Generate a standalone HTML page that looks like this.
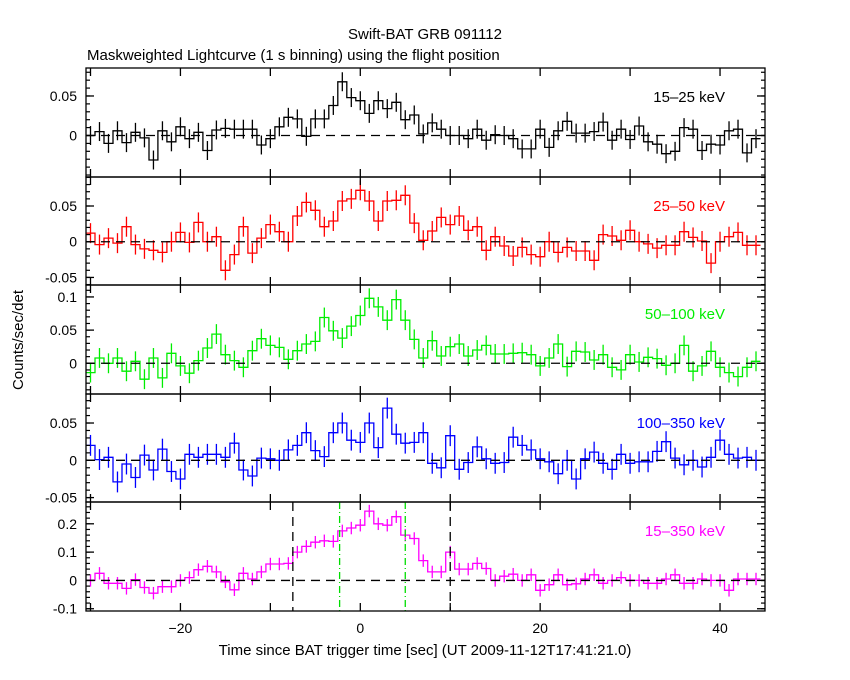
<!DOCTYPE html>
<html><head><meta charset="utf-8"><style>
body{margin:0;background:#fff;}
svg{display:block;font-family:"Liberation Sans",sans-serif;}
</style></head><body>
<svg id="chart" width="850" height="680" viewBox="0 0 850 680" xmlns="http://www.w3.org/2000/svg">
<rect width="850" height="680" fill="#fff"/>
<text x="425" y="39" text-anchor="middle" font-size="15">Swift-BAT GRB 091112</text>
<text x="87" y="60" font-size="15">Maskweighted Lightcurve (1 s binning) using the flight position</text>
<text x="0" y="0" font-size="15" text-anchor="middle" transform="translate(23,340) rotate(-90)">Counts/sec/det</text>
<text x="425" y="655" font-size="15" text-anchor="middle">Time since BAT trigger time [sec] (UT 2009-11-12T17:41:21.0)</text>
<g id="plots"></g>
</svg>
<script>
const times = [];
for (let t = -30; t <= 44; t++) times.push(t);
const band1 = [0.0,0.005,-0.01,0.006,-0.009,0.004,-0.003,-0.031,0.006,-0.008,0.011,-0.004,0.004,-0.019,0.007,0.009,0.008,0.008,0.008,-0.012,-0.004,0.011,0.023,0.021,-0.001,0.021,0.021,0.038,0.068,0.048,0.044,0.028,0.044,0.034,0.042,0.02,0.026,0.002,0.016,0.008,0.0,0.0,-0.004,0.008,-0.006,0.001,0.0,-0.004,-0.017,-0.017,0.008,-0.015,0.006,0.018,0.003,0.003,0.005,0.017,-0.006,0.008,-0.005,0.012,-0.008,-0.011,-0.023,-0.02,0.01,0.008,-0.019,-0.011,-0.012,0.006,0.008,-0.022,-0.004];
const band2 = [0.012,-0.004,0.005,-0.002,0.021,-0.004,-0.01,-0.012,-0.015,0.0,0.013,-0.001,0.027,0.0,0.007,-0.04,-0.018,0.021,-0.016,0.005,0.024,0.014,0.0,0.036,0.055,0.044,0.021,0.029,0.057,0.06,0.072,0.057,0.029,0.057,0.058,0.065,0.026,0.002,0.015,0.034,0.024,0.036,0.016,0.021,-0.012,0.007,-0.006,-0.02,-0.008,-0.018,-0.021,0.0,-0.015,-0.008,-0.013,-0.013,-0.026,0.01,0.008,0.002,0.016,0.0,-0.003,-0.009,-0.005,-0.005,0.014,0.006,0.001,-0.03,0.0,0.007,0.013,-0.005,-0.005];
const band3 = [-0.014,0.008,0.0,0.008,-0.012,0.003,-0.024,0.008,-0.022,0.015,-0.004,-0.015,0.004,0.023,0.044,0.013,0.004,-0.006,0.019,0.037,0.027,0.024,0.006,0.019,0.029,0.033,0.069,0.049,0.038,0.056,0.072,0.098,0.085,0.065,0.096,0.065,0.036,0.008,0.034,0.011,0.025,0.029,0.011,0.02,0.027,0.014,0.014,0.015,0.016,0.013,-0.004,0.008,0.029,-0.005,0.018,0.017,0.005,0.013,-0.006,-0.01,0.013,0.002,0.009,0.007,-0.003,0.0,0.027,-0.012,-0.004,0.018,-0.006,-0.014,-0.02,-0.006,0.003];
const band4 = [0.02,0.001,0.004,-0.029,-0.005,-0.023,0.007,-0.013,0.015,-0.015,-0.025,0.008,0.004,0.008,0.008,0.004,0.023,-0.013,-0.021,0.003,0.002,0.0,0.014,0.02,0.037,0.013,0.005,0.037,0.05,0.027,0.024,0.05,0.017,0.07,0.035,0.023,0.024,0.037,-0.004,-0.01,0.033,-0.012,-0.003,0.018,0.002,-0.004,-0.003,0.031,0.02,0.014,0.002,-0.002,-0.018,0.0,-0.025,0.002,0.011,-0.004,-0.012,0.008,-0.004,-0.002,-0.002,0.012,0.025,0.003,-0.006,0.0,-0.009,0.004,0.027,0.008,0.003,0.004,0.0];
const band5 = [0.0,0.025,-0.01,-0.01,-0.028,0.003,-0.025,-0.045,-0.022,-0.022,0.0,0.01,0.038,0.05,0.03,-0.005,-0.033,0.025,0.005,0.03,0.058,0.058,0.06,0.1,0.12,0.135,0.14,0.138,0.175,0.185,0.195,0.245,0.2,0.195,0.225,0.16,0.148,0.07,0.03,0.03,0.1,0.04,0.04,0.06,0.042,0.0,0.015,0.022,0.0,0.02,-0.035,-0.015,0.02,-0.015,-0.012,0.005,0.02,-0.01,0.0,0.01,0.0,0.0,-0.01,-0.01,0.005,0.02,-0.01,-0.01,0.005,0.0,0.0,-0.035,0.005,0.005,0.005];
const errors = [0.012,0.014,0.015,0.014,0.022];
const bandLabels = ["15\u201325 keV","25\u201350 keV","50\u2013100 keV","100\u2013350 keV","15\u2013350 keV"];
const xTickLabels = [-20,0,20,40];
const yTickLabels = [[0,0.05],[-0.05,0,0.05],[0,0.05,0.1],[-0.05,0,0.05],[-0.1,0,0.1,0.2]];
const vlinesBlack = [-7.5,10.0];
const vlinesGreen = [-2.3,5.0];

const panels = [
 {top:68,bot:177,ymin:-0.0525,ymax:0.0854,color:"#000",minor:0.01,tickFmt:v=>v===0?"0":String(v)},
 {top:177,bot:285,ymin:-0.0606,ymax:0.0906,color:"#ff0000",minor:0.01},
 {top:285,bot:394,ymin:-0.0463,ymax:0.118,color:"#00ee00",minor:0.01},
 {top:394,bot:502,ymin:-0.0559,ymax:0.0889,color:"#0000ff",minor:0.01},
 {top:502,bot:611,ymin:-0.108,ymax:0.277,color:"#ff00ff",minor:0.02}
];
const series=[band1,band2,band3,band4,band5];
const X0=86,X1=765,TMIN=-30.5,TMAX=45;
const xs=t=>X0+(t-TMIN)/(TMAX-TMIN)*(X1-X0);
const NS="http://www.w3.org/2000/svg";
const root=document.getElementById('plots');
function mk(tag,attrs,parent){const e=document.createElementNS(NS,tag);for(const k in attrs)e.setAttribute(k,attrs[k]);(parent||root).appendChild(e);return e;}
function fmt(v){if(v===0)return "0";let s=String(v);return s.replace(/^(-?)0\./,"$10.");}

panels.forEach((p,i)=>{
  const g=mk('g',{});
  
  
  const ys=v=>p.bot-(v-p.ymin)/(p.ymax-p.ymin)*(p.bot-p.top);
  const data=series[i];
  // step line
  let d="";
  data.forEach((v,k)=>{const t=times[k];const y=ys(v);
    d+=(k===0?"M":"L")+xs(t-0.5).toFixed(1)+","+y.toFixed(1)+"L"+xs(t+0.5).toFixed(1)+","+y.toFixed(1);});
  const step=mk('path',{d:d,fill:"none",stroke:p.color,"stroke-width":1.3},g);
  
  
  // error bars
  data.forEach((v,k)=>{const x=xs(times[k]);
    const eb=mk('line',{x1:x,x2:x,y1:ys(v-errors[i]),y2:ys(v+errors[i]),stroke:p.color,"stroke-width":1.3},g);
    
    
  });
  // zero line
  const z=mk('line',{x1:X0,x2:X1,y1:ys(0),y2:ys(0),stroke:"#000","stroke-width":1.3,"stroke-dasharray":"9,6"},g);
  
  
  if(i===4){
    vlinesBlack.forEach(t=>{const l=mk('line',{x1:xs(t),x2:xs(t),y1:p.top,y2:p.bot,stroke:"#000","stroke-width":1.3,"stroke-dasharray":"9,6"},g);
      
      });
    vlinesGreen.forEach(t=>{const l=mk('line',{x1:xs(t),x2:xs(t),y1:p.top,y2:p.bot,stroke:"#00dd00","stroke-width":1.3,"stroke-dasharray":"7,3,1,3"},g);
      
      });
  }
  // frame
  const fr=mk('rect',{x:X0,y:p.top,width:X1-X0,height:p.bot-p.top,fill:"none",stroke:"#000","stroke-width":1.3},g);
  
  
  // x ticks every 10 s, minors none
  for(let t=-30;t<=40;t+=10){const x=xs(t);
    mk('line',{x1:x,x2:x,y1:p.bot,y2:p.bot-8,stroke:"#000","stroke-width":1.3},g);
    mk('line',{x1:x,x2:x,y1:p.top,y2:p.top+8,stroke:"#000","stroke-width":1.3},g);}
  // y minor ticks
  const st=p.minor;
  for(let v=Math.ceil(p.ymin/st)*st;v<=p.ymax+1e-9;v+=st){const y=ys(v);
    mk('line',{x1:X0,x2:X0+4,y1:y,y2:y,stroke:"#000","stroke-width":1.2},g);
    mk('line',{x1:X1,x2:X1-4,y1:y,y2:y,stroke:"#000","stroke-width":1.2},g);}
  yTickLabels[i].forEach(v=>{const y=ys(v);
    mk('line',{x1:X0,x2:X0+8,y1:y,y2:y,stroke:"#000","stroke-width":1.3},g);
    mk('line',{x1:X1,x2:X1-8,y1:y,y2:y,stroke:"#000","stroke-width":1.3},g);
    const tx=mk('text',{x:X0-9,y:y+5,"text-anchor":"end","font-size":14},g);
    tx.textContent=fmt(v);
    
    
  });
  const lb=mk('text',{x:725,y:p.top+34,"text-anchor":"end","font-size":15,fill:p.color},g);
  lb.textContent=bandLabels[i];
  
  
  if(i===4){
    xTickLabels.forEach(t=>{const tx=mk('text',{x:xs(t),y:p.bot+22,"text-anchor":"middle","font-size":14},g);
      tx.textContent=String(t).replace('-','\u2212');
      
      });
  }
});
</script>
</body></html>
